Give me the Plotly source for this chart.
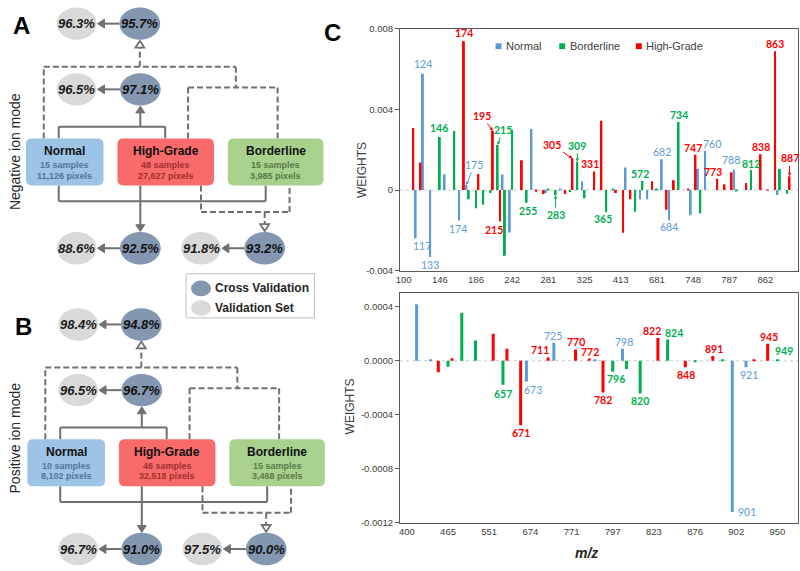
import plotly.graph_objects as go

W, H = 800, 571

# ---------------- panel C, top: negative ion mode weights ----------------
TOP_MZ = ["100", "103", "117", "124", "133", "146", "155", "163", "174", "175",
          "186", "190", "195", "215", "229", "242", "248", "255", "265", "279",
          "281", "283", "297", "305", "309", "325", "331", "339", "365", "391",
          "413", "447", "531", "572", "603", "681", "682", "684", "734", "745",
          "748", "750", "760", "773", "778", "787", "788", "799", "812", "838",
          "862", "863", "885", "887"]
TOP_TICKS = ["100", "146", "186", "242", "281", "325", "413", "681", "748", "787", "862"]

TOP_NORMAL_MZ = ["117", "124", "133", "155", "174", "175", "229", "242", "265", "281", "297",
                 "325", "447", "572", "603", "682", "684", "748", "750", "760", "788", "885"]
TOP_NORMAL_W = [-0.00239, 0.00576, -0.00332, 0.00078, -0.00151, 0.00025, 0.00077, -0.0021,
                0.00302, -0.00015, 0.00007, 0.00042, 0.00112, -0.00045, -0.00045, 0.00153,
                -0.0015, -0.00125, 0.00105, 0.00194, 0.00100, -0.00025]

TOP_BORDER_MZ = ["146", "163", "175", "186", "190", "195", "215", "229", "242", "255",
                 "281", "283", "305", "309", "325", "365", "391", "531", "572", "681",
                 "734", "750", "788", "812", "885", "887"]
TOP_BORDER_W = [0.00263, 0.00293, -0.00046, -0.0009, -0.00073, -0.00015, 0.00223, -0.00325,
                0.00298, -0.00063, 0.00007, -0.00025, -0.0001, 0.0014, -0.0004, -0.0011,
                0.00005, -0.00107, 0.00046, 0.00003, 0.00337, -0.00116, -0.00004, 0.00099,
                0.00104, -0.00018]

TOP_HIGH_MZ = ["103", "117", "174", "186", "195", "215", "248", "265", "279", "297",
               "305", "331", "339", "391", "413", "447", "603", "682", "684", "745",
               "748", "773", "778", "787", "799", "838", "862", "863", "887"]
TOP_HIGH_W = [0.00307, 0.00137, 0.00737, 0.00079, 0.00293, -0.00156, 0.00148, -0.00008,
              -0.0002, -0.0002, 0.00157, 0.00092, 0.00343, -0.00015, -0.00212, -0.00045,
              0.00043, -0.00098, 0.00048, 0.00003, 0.00175, 0.00056, 0.00029, 0.00088,
              0.00035, 0.00177, 0.00002, 0.00688, 0.00068]

# (series, category, label text)
TOP_LABELS = [("N", "117", "117"), ("N", "124", "124"), ("N", "133", "133"), ("B", "146", "146"),
              ("N", "174", "174"), ("H", "174", "174"), ("N", "175", "175"), ("H", "195", "195"),
              ("B", "215", "215"), ("H", "215", "215"), ("B", "255", "255"), ("B", "283", "283"),
              ("H", "305", "305"), ("B", "309", "309"), ("H", "331", "331"), ("B", "365", "365"),
              ("B", "572", "572"), ("N", "682", "682"), ("N", "684", "684"), ("B", "734", "734"),
              ("H", "748", "747"), ("N", "760", "760"), ("H", "773", "773"), ("N", "788", "788"),
              ("B", "812", "812"), ("H", "838", "838"), ("H", "863", "863"), ("H", "887", "887")]

# ---------------- panel C, bottom: positive ion mode weights ----------------
BOT_MZ = ["400", "426", "445", "465", "479", "522", "551", "657", "671", "674",
          "711", "725", "771", "772", "782", "797", "798", "820", "823", "824",
          "848", "876", "891", "897", "902", "921", "945", "950"]
BOT_TICKS = ["400", "465", "551", "674", "771", "797", "823", "876", "902", "950"]

BOT_NORMAL_MZ = ["426", "445", "674", "725", "782", "798", "902", "921"]
BOT_NORMAL_W = [0.00042, 0.00001, -0.000153, 0.000134, 0.000004, 0.00009, -0.00112, -0.000048]

BOT_BORDER_MZ = ["465", "479", "522", "657", "797", "798", "820", "824", "876", "897", "950"]
BOT_BORDER_W = [-0.000044, 0.000356, 0.00015, -0.000177, -0.00008, -0.00006, -0.000242,
                0.000158, -0.000004, 0.000008, 0.000005]

BOT_HIGH_MZ = ["445", "465", "551", "657", "671", "711", "771", "772", "782", "823",
               "848", "891", "921", "945"]
BOT_HIGH_W = [-0.000085, 0.00002, 0.0002, 0.00009, -0.000477, 0.000025, 0.000085, 0.000017,
              -0.000235, 0.00017, -0.000048, 0.000036, 0.00001, 0.000126]

BOT_LABELS = [("B", "657", "657"), ("H", "671", "671"), ("N", "674", "673"), ("H", "711", "711"),
              ("N", "725", "725"), ("H", "771", "770"), ("H", "772", "772"), ("H", "782", "782"),
              ("B", "797", "796"), ("N", "798", "798"), ("B", "820", "820"), ("H", "823", "822"),
              ("B", "824", "824"), ("H", "848", "848"), ("H", "891", "891"), ("N", "902", "901"),
              ("N", "921", "921"), ("H", "945", "945"), ("B", "950", "949")]

# ---------------- panels A / B ----------------
CLASSES = ["Normal", "High-Grade", "Borderline"]
NEG_SAMPLES = ["15 samples", "48 samples", "15 samples"]
NEG_PIXELS = ["11,126 pixels", "27,627 pixels", "3,985 pixels"]
POS_SAMPLES = ["10 samples", "46 samples", "15 samples"]
POS_PIXELS = ["8,102 pixels", "32,518 pixels", "3,468 pixels"]
# order: all three classes, normal vs high-grade, high-grade vs rest, borderline vs rest
NEG_CV = ["95.7%", "97.1%", "92.5%", "93.2%"]
NEG_VS = ["96.3%", "96.5%", "88.6%", "91.8%"]
POS_CV = ["94.8%", "96.7%", "91.0%", "90.0%"]
POS_VS = ["98.4%", "96.5%", "96.7%", "97.5%"]

# ---------------- styling ----------------
ARIAL = "Arial, Liberation Sans, sans-serif"
CALIBRI = "Lato, Carlito, sans-serif"
COLORS = {"N": "#5B9BD5", "B": "#00B050", "H": "#FF0000"}
NAMES = {"N": "Normal", "B": "Borderline", "H": "High-Grade"}
BOX_FILL = ["#9DC3E6", "#F96A6A", "#A9D18E"]
BOX_SUB = ["#51749A", "#9E2F2F", "#587A47"]
CV_FILL, VS_FILL = "#8497B0", "#D9D9D9"
LINE = "#707070"


def px(x):
    return x / W


def py(y):
    return 1 - y / H


shapes, ann = [], []


def seg(x0, y0, x1, y1, dash="solid"):
    shapes.append(dict(type="line", xref="paper", yref="paper", x0=px(x0), y0=py(y0),
                       x1=px(x1), y1=py(y1), line=dict(color=LINE, width=2, dash=dash)))


def head(x, y, d, filled=True):
    L, h = 7, 4.5
    if d == "up":
        pts = [(x - h, y + L), (x, y), (x + h, y + L)]
    elif d == "down":
        pts = [(x - h, y - L), (x, y), (x + h, y - L)]
    else:
        pts = [(x + L, y - h), (x, y), (x + L, y + h)]
    path = "M " + " L ".join(f"{px(a):.5f},{py(b):.5f}" for a, b in pts) + " Z"
    shapes.append(dict(type="path", xref="paper", yref="paper", path=path,
                       fillcolor=LINE if filled else "white",
                       line=dict(color=LINE, width=1 if filled else 1.8)))


def ellipse(cx, cy, rx, ry, color):
    shapes.append(dict(type="circle", xref="paper", yref="paper", x0=px(cx - rx), x1=px(cx + rx),
                       y0=py(cy + ry), y1=py(cy - ry), fillcolor=color, line=dict(width=0)))


def rbox(x0, y0, x1, y1, r, color):
    p = (f"M {px(x0 + r)},{py(y0)} L {px(x1 - r)},{py(y0)} Q {px(x1)},{py(y0)} {px(x1)},{py(y0 + r)} "
         f"L {px(x1)},{py(y1 - r)} Q {px(x1)},{py(y1)} {px(x1 - r)},{py(y1)} "
         f"L {px(x0 + r)},{py(y1)} Q {px(x0)},{py(y1)} {px(x0)},{py(y1 - r)} "
         f"L {px(x0)},{py(y0 + r)} Q {px(x0)},{py(y0)} {px(x0 + r)},{py(y0)} Z")
    shapes.append(dict(type="path", xref="paper", yref="paper", path=p, fillcolor=color,
                       line=dict(width=0)))


def text(x, y, s, size, color="#000000", angle=0, xanchor="center", family=ARIAL):
    ann.append(dict(x=px(x), y=py(y), xref="paper", yref="paper", text=s, showarrow=False,
                    xanchor=xanchor, yanchor="middle", textangle=angle,
                    font=dict(size=size, color=color, family=family)))


CV_POS = [(136.5, 18), (137, 85), (137, 247), (262, 247)]
VS_POS = [(73, 18), (73, 85), (73, 247), (198, 247)]
RX, RY = 20.5, 16.5
BOX_X = [(22, 100), (114, 211), (225, 321)]
BOX_Y = (135, 183)
DASHED = [(40, 135, 40, 62), (40, 62, 233, 62), (233, 62, 233, 83), (185, 83, 275, 83),
          (185, 83, 185, 135), (275, 83, 275, 135), (136.5, 62, 136.5, 40),
          (198, 183, 198, 210), (198, 210, 287, 210), (287, 210, 287, 183), (262, 210, 262, 226)]
SOLID = [(55, 135, 55, 123), (55, 123, 162, 123), (162, 123, 162, 135), (137, 123, 137, 105),
         (55, 183, 55, 199), (55, 199, 263, 199), (263, 199, 263, 183), (137, 183, 137, 226)]


def panel(dx, dy, cv, vs, samples, pixels, letter, mode, mode_y):
    for x0, y0, x1, y1 in DASHED:
        seg(x0 + dx, y0 + dy, x1 + dx, y1 + dy, dash="6px,3px")
    for x0, y0, x1, y1 in SOLID:
        seg(x0 + dx, y0 + dy, x1 + dx, y1 + dy)
    head(136.5 + dx, 18 + RY + dy + 1, "up", filled=False)
    head(262 + dx, 247 - RY + dy - 1, "down", filled=False)
    head(137 + dx, 85 + RY + dy + 0.5, "up")
    head(137 + dx, 247 - RY + dy - 0.5, "down")
    for i in range(4):
        (cx, cy), (vx, vy) = CV_POS[i], VS_POS[i]
        seg(cx - RX + dx, cy + dy, vx + RX + 6 + dx, cy + dy)
        head(vx + RX + dx + 0.5, cy + dy, "left")
        ellipse(vx + dx, vy + dy, RX - 0.5, RY, VS_FILL)
        ellipse(cx + dx, cy + dy, RX, RY, CV_FILL)
        text(vx + dx, vy + dy, f"<b><i>{vs[i]}</i></b>", 13, "#1A1A1A")
        text(cx + dx, cy + dy, f"<b><i>{cv[i]}</i></b>", 13, "#111111")
    for i in range(3):
        x0, x1 = BOX_X[i]
        rbox(x0 + dx, BOX_Y[0] + dy, x1 + dx, BOX_Y[1] + dy, 6, BOX_FILL[i])
        xc = (x0 + x1) / 2 + dx
        text(xc, 148 + dy, f"<b>{CLASSES[i]}</b>", 12, "#111111")
        text(xc, 162 + dy, f"<b>{samples[i]}</b>", 9, BOX_SUB[i])
        text(xc, 173 + dy, f"<b>{pixels[i]}</b>", 9, BOX_SUB[i])
    text(18 + dx, 20 + dy, f"<b>{letter}</b>", 24, "#000000")
    text(11, mode_y, mode, 14, "#262626", angle=-90)


panel(0, 0, NEG_CV, NEG_VS, NEG_SAMPLES, NEG_PIXELS, "A", "Negative ion mode", 148)
panel(1.5, 306.7, POS_CV, POS_VS, POS_SAMPLES, POS_PIXELS, "B", "Positive ion mode", 440)

# legend of the validation circles
shapes.append(dict(type="rect", xref="paper", yref="paper", x0=px(183), x1=px(312), y0=py(318),
                   y1=py(273), line=dict(color="#BFBFBF", width=1), fillcolor="white"))
ellipse(198, 288, 10, 8, CV_FILL)
ellipse(198, 308, 10, 8, VS_FILL)
text(210, 288, "<b>Cross Validation</b>", 12, "#262626", xanchor="left")
text(210, 308, "<b>Validation Set</b>", 12, "#262626", xanchor="left")

text(330, 27, "<b>C</b>", 24, "#000000")

# ---------------- bar charts ----------------
TOP = dict(cats=TOP_MZ, xa="x", ya="y", centers={"N": -1 / 3, "B": 0.0, "H": 1 / 3}, width=0.26,
           data={"N": (TOP_NORMAL_MZ, TOP_NORMAL_W), "B": (TOP_BORDER_MZ, TOP_BORDER_W),
                 "H": (TOP_HIGH_MZ, TOP_HIGH_W)})
BOT = dict(cats=BOT_MZ, xa="x2", ya="y2", centers={"N": -0.29, "B": 0.0, "H": 0.29}, width=0.22,
           data={"N": (BOT_NORMAL_MZ, BOT_NORMAL_W), "B": (BOT_BORDER_MZ, BOT_BORDER_W),
                 "H": (BOT_HIGH_MZ, BOT_HIGH_W)})

# label nudges in pixels (dx, dy, arrow)
TOP_NUDGE = {("N", "117"): (6, 8, 0), ("N", "124"): (0, -10, 0), ("N", "133"): (0, 8, 0),
             ("B", "146"): (-1, -9, 0), ("N", "174"): (-1, 8, 0), ("H", "174"): (0, -8, 0),
             ("N", "175"): (8, -20, 1), ("H", "195"): (-11, -15, 1), ("B", "215"): (5, -15, 1),
             ("H", "215"): (-6, 8, 0), ("B", "255"): (1, 8, 0), ("B", "283"): (0, 20, 1),
             ("H", "305"): (-20, -13, 1), ("B", "309"): (0, -16, 1), ("H", "331"): (-4, -7, 0),
             ("B", "365"): (-3, 7, 0), ("B", "572"): (-2, -7, 0), ("N", "682"): (0, -7, 0),
             ("N", "684"): (0, 7, 0), ("B", "734"): (0, -7, 0), ("H", "747"): (-2, -7, 0),
             ("N", "760"): (7, -7, 0), ("H", "773"): (-4, -7, 0), ("N", "788"): (-3, -10, 0),
             ("B", "812"): (0, -6, 0), ("H", "838"): (0, -7, 0), ("H", "863"): (0, -7, 0),
             ("H", "887"): (0, -18, 1)}
BOT_NUDGE = {("B", "657"): (0, 9, 0), ("H", "671"): (0, 8, 0), ("N", "673"): (7, 8, 0),
             ("H", "711"): (-8, -7, 0), ("N", "725"): (-1, -7, 0), ("H", "770"): (0, -7, 0),
             ("H", "772"): (1, -7, 0), ("H", "782"): (0, 7, 0), ("B", "796"): (3, 7, 0),
             ("N", "798"): (2, -7, 0), ("B", "820"): (0, 7, 0), ("H", "822"): (-6, -7, 0),
             ("B", "824"): (6, -7, 0), ("H", "848"): (1, 8, 0), ("H", "891"): (1, -7, 0),
             ("N", "901"): (15, 0, 0), ("N", "921"): (3, 8, 0), ("H", "945"): (1, -7, 0),
             ("B", "949"): (7, -9, 0)}

fig = go.Figure()


def add_chart(cfg, labels, nudge):
    # invisible trace keeps every m/z category on the axis
    fig.add_trace(go.Scatter(x=cfg["cats"], y=[0] * len(cfg["cats"]), mode="markers",
                             marker=dict(opacity=0), hoverinfo="skip", showlegend=False,
                             xaxis=cfg["xa"], yaxis=cfg["ya"]))
    for s in ["N", "B", "H"]:
        mz, w = cfg["data"][s]
        fig.add_trace(go.Bar(x=mz, y=w, name=NAMES[s], marker=dict(color=COLORS[s], line=dict(width=0)),
                             width=cfg["width"], offset=cfg["centers"][s] - cfg["width"] / 2,
                             xaxis=cfg["xa"], yaxis=cfg["ya"], showlegend=False))
    for s, cat, txt in labels:
        mz, w = cfg["data"][s]
        val = w[mz.index(cat)]
        xpos = cfg["cats"].index(cat) + cfg["centers"][s]
        dx, dy, arrow = nudge[(s, txt)]
        label = txt if s == "N" else f"<b>{txt}</b>"
        a = dict(x=xpos, y=val, xref=cfg["xa"], yref=cfg["ya"], text=label,
                 font=dict(family=CALIBRI, size=10.5, color=COLORS[s]))
        if arrow:
            a.update(showarrow=True, ax=dx, ay=dy, arrowhead=2, arrowsize=0.7, arrowwidth=1,
                     arrowcolor=COLORS[s], standoff=0)
        else:
            a.update(showarrow=False, xshift=dx, yshift=-dy)
        ann.append(a)
    shapes.append(dict(type="line", xref=cfg["xa"] + " domain", yref=cfg["ya"], x0=0, x1=1, y0=0, y1=0,
                       line=dict(color="#C8C8C8", width=1, dash="dot"), layer="below"))


add_chart(TOP, TOP_LABELS, TOP_NUDGE)
add_chart(BOT, BOT_LABELS, BOT_NUDGE)

# legend of the top chart
for i, (s, x) in enumerate([("N", 494), ("B", 558), ("H", 635)]):
    shapes.append(dict(type="rect", xref="paper", yref="paper", x0=px(x), x1=px(x + 6),
                       y0=py(44), y1=py(38), fillcolor=COLORS[s], line=dict(width=0)))
    text(x + 8.5, 41, NAMES[s], 11, "#404040", xanchor="left")

text(360, 167, "WEIGHTS", 12, "#404040", angle=-90)
text(348, 408, "WEIGHTS", 12, "#404040", angle=-90)
text(585, 558, "<b><i>m/z</i></b>", 14, "#262626")

axis_common = dict(showline=True, mirror=True, linecolor="#595959", linewidth=1, showgrid=False,
                   zeroline=False, tickfont=dict(size=9.5, color="#404040"), fixedrange=True)
fig.update_layout(
    width=W, height=H, margin=dict(l=0, r=0, t=0, b=0),
    paper_bgcolor="white", plot_bgcolor="white", showlegend=False,
    font=dict(family=ARIAL, color="#404040"),
    xaxis=dict(domain=[398 / W, 798 / W], anchor="y", type="category", categoryorder="array",
               categoryarray=TOP_MZ, range=[-0.5, len(TOP_MZ) + 0.5], tickmode="array",
               tickvals=TOP_TICKS, ticktext=TOP_TICKS, ticks="", **axis_common),
    yaxis=dict(domain=[1 - 270 / H, 1 - 23 / H], anchor="x", range=[-0.004, 0.008],
               tickvals=[-0.004, 0, 0.004, 0.008], ticktext=["-0.004", "0", "0.004", "0.008"],
               ticks="outside", ticklen=4, tickcolor="#595959", **axis_common),
    xaxis2=dict(domain=[398 / W, 798 / W], anchor="y2", type="category", categoryorder="array",
                categoryarray=BOT_MZ, range=[-0.5, len(BOT_MZ) + 0.5], tickmode="array",
                tickvals=BOT_TICKS, ticktext=BOT_TICKS, ticks="", **axis_common),
    yaxis2=dict(domain=[1 - 527 / H, 1 - 293 / H], anchor="x2", range=[-0.0012, 0.0005],
                tickvals=[-0.0012, -0.0008, -0.0004, 0, 0.0004],
                ticktext=["-0.0012", "-0.0008", "-0.0004", "0.0000", "0.0004"],
                ticks="outside", ticklen=4, tickcolor="#595959", **axis_common),
    shapes=shapes, annotations=ann,
)

fig.write_html("out.html", config={"displayModeBar": False},
               post_script="document.body.style.margin='0';")
